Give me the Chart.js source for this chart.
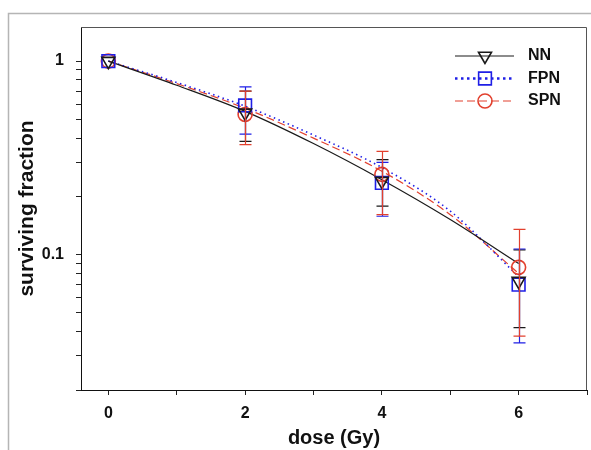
<!DOCTYPE html>
<html>
<head>
<meta charset="utf-8">
<script src="https://cdn.jsdelivr.net/npm/chart.js@4"></script>
<style>
html, body { margin: 0; padding: 0; background: #fff; }
</style>
</head>
<body>
<canvas id="c" width="591" height="450"></canvas>
<script>
// measured points (dose in Gy) with error bar ends
const doses = [0, 2, 4, 6];
const nnSF  = [1, 0.54, 0.24, 0.073];
const nnHi  = [1, 0.70, 0.31, 0.106];
const nnLo  = [1, 0.385, 0.178, 0.042];
const fpnSF = [1, 0.59, 0.235, 0.070];
const fpnHi = [1, 0.736, 0.30, 0.107];
const fpnLo = [1, 0.42, 0.158, 0.035];
const spnSF = [1, 0.53, 0.26, 0.086];
const spnHi = [1, 0.70, 0.342, 0.135];
const spnLo = [1, 0.37, 0.161, 0.038];

// fitted curves
const fitDoses = [0, 1, 2, 3, 4, 5, 6];
const nnFit  = [1, 0.75, 0.55, 0.375, 0.244, 0.152, 0.090];
const fpnFit = [1, 0.775, 0.585, 0.415, 0.282, 0.168, 0.077];
const spnFit = [1, 0.765, 0.57, 0.40, 0.27, 0.161, 0.080];

const xTicks = [0, 1, 2, 3, 4, 5, 6, 7];
const xLabels = [0, 2, 4, 6];
const yTicks = [0.02, 0.03, 0.04, 0.05, 0.06, 0.07, 0.08, 0.09, 0.1,
                0.2, 0.3, 0.4, 0.5, 0.6, 0.7, 0.8, 0.9, 1];
const yLabels = [0.1, 1];

const FONT = "'Liberation Sans', Arial, Helvetica, sans-serif";
const BLACK = '#1a1a1a', BLUE = '#1f1fe6', RED = '#e2402e';

const series = [
  {label: 'NN',  sf: nnSF,  hi: nnHi,  lo: nnLo,  fit: nnFit,  color: BLACK, dash: [],     width: 1.2,
   style: 'triangle', rot: 180, r: 7.5},
  {label: 'FPN', sf: fpnSF, hi: fpnHi, lo: fpnLo, fit: fpnFit, color: BLUE,  dash: [1.5, 3.5], width: 1.6,
   style: 'rect', rot: 0, r: 9},
  {label: 'SPN', sf: spnSF, hi: spnHi, lo: spnLo, fit: spnFit, color: RED,   dash: [8, 4],  width: 1.2,
   style: 'circle', rot: 0, r: 7}
];

const datasets = [];
series.forEach(s => {
  datasets.push({
    label: s.label,
    data: doses.map((d, i) => ({x: d, y: s.sf[i]})),
    showLine: false,
    borderColor: s.color,
    backgroundColor: 'rgba(0,0,0,0)',
    pointStyle: s.style,
    rotation: s.rot,
    pointRadius: s.r,
    pointBorderWidth: 1.6,
    errHi: s.hi,
    errLo: s.lo
  });
});
series.forEach(s => {
  datasets.push({
    label: s.label + ' fit',
    data: fitDoses.map((d, i) => ({x: d, y: s.fit[i]})),
    showLine: true,
    borderColor: s.color,
    borderWidth: s.width,
    borderDash: s.dash,
    pointRadius: 0,
    cubicInterpolationMode: 'monotone',
    fill: false
  });
});

const frame = {
  id: 'frame',
  beforeDraw(chart) {
    const ctx = chart.ctx;
    ctx.save();
    ctx.fillStyle = '#fff';
    ctx.fillRect(0, 0, chart.width, chart.height);
    ctx.strokeStyle = '#b5b5b5';
    ctx.lineWidth = 1.5;
    ctx.strokeRect(8.5, 13.5, 900, 900);
    ctx.restore();
  },
  afterDraw(chart) {
    const a = chart.chartArea, ctx = chart.ctx;
    ctx.save();
    ctx.strokeStyle = '#555';
    ctx.lineWidth = 1;
    ctx.beginPath();
    ctx.moveTo(a.left, a.top + 0.5);
    ctx.lineTo(a.right - 0.5, a.top + 0.5);
    ctx.lineTo(a.right - 0.5, a.bottom);
    ctx.stroke();
    ctx.restore();
  }
};

const errorBars = {
  id: 'errorBars',
  afterDatasetsDraw(chart) {
    const ctx = chart.ctx, ys = chart.scales.y;
    ctx.save();
    chart.data.datasets.forEach((ds, i) => {
      if (!ds.errHi) return;
      const meta = chart.getDatasetMeta(i);
      ctx.strokeStyle = ds.borderColor;
      ctx.lineWidth = 1.2;
      meta.data.forEach((pt, j) => {
        if (ds.errHi[j] === ds.errLo[j]) return;
        const x = Math.round(pt.x) + 0.5;
        const yh = ys.getPixelForValue(ds.errHi[j]);
        const yl = ys.getPixelForValue(ds.errLo[j]);
        ctx.beginPath();
        ctx.moveTo(x, yh); ctx.lineTo(x, yl);
        ctx.moveTo(x - 6, yh); ctx.lineTo(x + 6, yh);
        ctx.moveTo(x - 6, yl); ctx.lineTo(x + 6, yl);
        ctx.stroke();
      });
    });
    ctx.restore();
  }
};

const legendBox = {
  id: 'legendBox',
  afterDraw(chart) {
    const ctx = chart.ctx;
    ctx.save();
    series.forEach((s, i) => {
      const y = 56 + i * 22.5;
      ctx.strokeStyle = s.color;
      ctx.lineWidth = i === 1 ? 2.6 : 1.2;
      ctx.setLineDash(i === 1 ? [2.5, 3.5] : s.dash);
      ctx.beginPath();
      ctx.moveTo(455, y); ctx.lineTo(514, y);
      ctx.stroke();
      ctx.setLineDash([]);
      ctx.lineWidth = 1.6;
      ctx.fillStyle = 'rgba(0,0,0,0)';
      Chart.helpers.drawPoint(ctx, {pointStyle: s.style, rotation: s.rot, radius: s.r,
        borderWidth: 1.6}, 485, y);
      ctx.fillStyle = '#111';
      ctx.font = 'bold 16px ' + FONT;
      ctx.textBaseline = 'middle';
      ctx.fillText(s.label, 528, y);
    });
    ctx.restore();
  }
};

new Chart(document.getElementById('c').getContext('2d'), {
  type: 'scatter',
  data: {datasets: datasets},
  plugins: [frame, errorBars, legendBox],
  options: {
    responsive: false,
    animation: false,
    layout: {autoPadding: false, padding: {left: 0, top: 27, right: 4, bottom: 0}},
    plugins: {legend: {display: false}, tooltip: {enabled: false}},
    scales: {
      x: {
        type: 'linear', min: -0.4, max: 7,
        afterBuildTicks: s => { s.ticks = xTicks.map(v => ({value: v})); },
        afterFit: s => { s.height = 60; s.paddingLeft = 0; s.paddingRight = 0; },
        ticks: {
          autoSkip: false, maxRotation: 0, padding: 9, color: '#111',
          font: {family: FONT, size: 16, weight: 'bold'},
          callback: v => xLabels.includes(v) ? String(v) : ''
        },
        grid: {drawOnChartArea: false, tickLength: 5, color: '#222'},
        border: {color: '#111', width: 1},
        title: {display: true, text: 'dose (Gy)', color: '#111',
          font: {family: FONT, size: 20, weight: 'bold'}, padding: {top: 0, bottom: 0}}
      },
      y: {
        type: 'logarithmic', min: 0.02, max: 1.5,
        afterBuildTicks: s => { s.ticks = yTicks.map(v => ({value: v})); },
        afterFit: s => { s.width = 81; s.paddingTop = 0; s.paddingBottom = 0; },
        ticks: {
          autoSkip: false, padding: 12, color: '#111',
          font: {family: FONT, size: 16, weight: 'bold'},
          callback: v => yLabels.includes(v) ? String(v) : ''
        },
        grid: {drawOnChartArea: false, tickLength: 5, color: '#222'},
        border: {color: '#111', width: 1},
        title: {display: true, text: 'surviving fraction', color: '#111',
          font: {family: FONT, size: 21, weight: 'bold'}, padding: {top: 15, bottom: 0}}
      }
    }
  }
});
</script>
</body>
</html>
